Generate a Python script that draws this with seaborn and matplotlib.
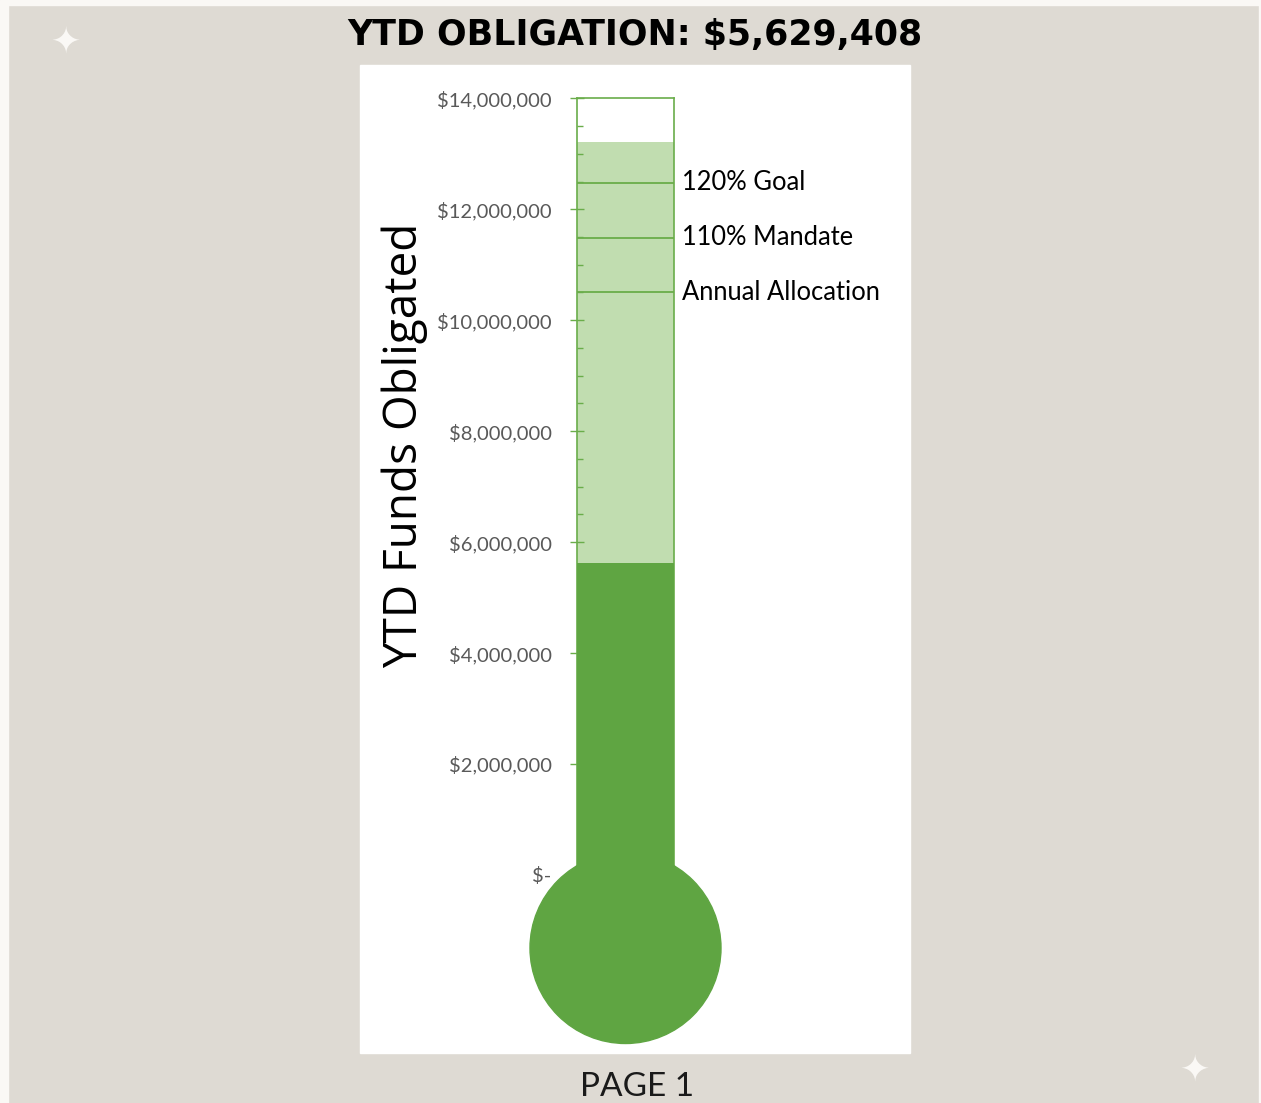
import matplotlib
matplotlib.use("Agg")
import matplotlib.pyplot as plt
import matplotlib.transforms as mtransforms
from matplotlib.patches import Rectangle, Circle
from matplotlib.ticker import FuncFormatter, MultipleLocator
import seaborn as sns
import pandas as pd

# ---- data ----
title_text = "YTD OBLIGATION: $5,629,408"
ytd_obligated = 5629408
light_fill_top = 13210000
milestone_names = ["Annual Allocation", "110% Mandate", "120% Goal"]
milestone_values = [10505000, 11490000, 12480000]
y_max = 14000000
major_step = 2000000
minor_step = 500000

BEIGE = "#dedad3"
EDGE = "#faf8f5"
DARK = "#5fa542"
LIGHT = "#c1ddb0"
LINE = "#6aad4a"

sns.set_theme(style="white")
plt.rcParams['font.family'] = ['Lato', 'DejaVu Sans']

W, H = 1261, 1103
fig = plt.figure(figsize=(W / 100, H / 100), dpi=100, facecolor=BEIGE)

def fx(px):
    return px / W

def fy(py):
    return 1 - py / H

# page edges
fig.patches.append(Rectangle((0, fy(5)), 1, 5 / H, transform=fig.transFigure, color=EDGE, zorder=-2))
fig.patches.append(Rectangle((0, 0), fx(8), 1, transform=fig.transFigure, color=EDGE, zorder=-2))
fig.patches.append(Rectangle((fx(1259), 0), fx(2), 1, transform=fig.transFigure, color=EDGE, zorder=-2))
# white panel
fig.patches.append(Rectangle((fx(360), fy(1053)), fx(910 - 360), (1053 - 65) / H,
                             transform=fig.transFigure, color="white", zorder=-1))

# thermometer axes
ax_l, ax_r, ax_t, ax_b = 577, 674, 98.3, 875
ax = fig.add_axes([fx(ax_l), fy(ax_b), fx(ax_r - ax_l), (ax_b - ax_t) / H])
ax.set_zorder(1)
ax.set_facecolor("white")
ax.set_axisbelow(False)

df_light = pd.DataFrame({"cat": ["YTD"], "val": [light_fill_top]})
df_dark = pd.DataFrame({"cat": ["YTD"], "val": [ytd_obligated]})
sns.barplot(data=df_light, x="cat", y="val", color=LIGHT, width=1.0, ax=ax,
            saturation=1, linewidth=0, zorder=1)
sns.barplot(data=df_dark, x="cat", y="val", color=DARK, width=1.0, ax=ax,
            saturation=1, linewidth=0, zorder=3)
ax.set_xlim(-0.5, 0.5)
ax.set_ylim(0, y_max)

# milestone lines
ax.hlines(milestone_values, -0.5, 0.5, color=LINE, lw=1.3, zorder=2)
for name, v in zip(milestone_names, milestone_values):
    ax.annotate(name, xy=(0.5, v), xycoords="data", xytext=(6, 0), textcoords="offset points",
                ha="left", va="center", fontsize=18.4, color="black",
                annotation_clip=False)

# spines / ticks
for s in ["left", "right", "top"]:
    ax.spines[s].set_visible(True)
    ax.spines[s].set_color(LINE)
    ax.spines[s].set_linewidth(1.2)
ax.spines["bottom"].set_visible(False)
ax.set_xticks([])
ax.set_xlabel("")
ax.set_ylabel("")
ax.yaxis.set_major_locator(MultipleLocator(major_step))
ax.yaxis.set_minor_locator(MultipleLocator(minor_step))
ax.yaxis.set_major_formatter(FuncFormatter(lambda v, p: "$-" if v == 0 else f"${v:,.0f}"))
ax.tick_params(axis="y", which="major", direction="inout", length=10, width=1,
               color=LINE, labelsize=14.5, labelcolor="#595959", pad=13.3, left=True)
ax.tick_params(axis="y", which="minor", direction="in", length=4.3, width=1,
               color=LINE, left=True)

# bulb
trans = fig.dpi_scale_trans + mtransforms.ScaledTranslation(0, 0, ax.transData)
bulb = Circle((0, -0.73), radius=0.955, transform=trans, color=DARK, zorder=4, clip_on=False)
ax.add_patch(bulb)

# y label
fig.text(fx(405), fy(445), "YTD Funds Obligated", rotation=90, ha="center", va="center",
         fontsize=33, color="black", family=["Open Sans", "DejaVu Sans"])

# title
fig.text(fx(635), fy(35), title_text, ha="center", va="center", fontsize=25,
         fontweight="bold", color="black", family=["DejaVu Sans"])

# page footer
fig.text(fx(637), fy(1102), "PAGE 1", ha="center", va="bottom", fontsize=24,
         color="#1a1a1a")

# sparkles
for (sx, sy) in [(66, 42), (1195, 1070)]:
    fig.text(fx(sx), fy(sy), "\u2726", ha="center", va="center", fontsize=26,
             color=EDGE, family=["DejaVu Sans"])

fig.savefig("out.png", dpi=100, facecolor=BEIGE)
